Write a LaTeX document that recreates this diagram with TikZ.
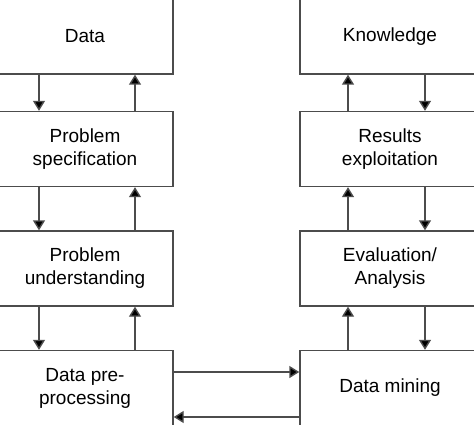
\documentclass[tikz,border=0pt]{standalone}
\usepackage{fontspec}
\setmainfont{Liberation Sans}
\usetikzlibrary{arrows.meta}
\begin{document}
\begin{tikzpicture}[x=1pt,y=-1pt,
  box/.style={draw=black!70, line width=1.4pt, fill=white, align=center,
    font=\fontsize{19}{23}\selectfont, inner sep=0pt},
  lbox/.style={box, minimum width=176pt, minimum height=75pt},
  rbox/.style={box, minimum width=180pt, minimum height=75pt},
  arr/.style={draw=black!70, line width=1.4pt, -{Triangle[width=12pt,length=10pt,fill=black]}}]
\useasboundingbox (0,0) rectangle (474,425);
\fill[white] (0,0) rectangle (474,425);
\clip (0,0) rectangle (474,425);
\node[lbox] (l1) at (85,36.5) {Data};
\node[lbox] (l2) at (85,149) {Problem\\specification};
\node[lbox] (l3) at (85,268.5) {Problem\\understanding};
\node[lbox] (l4) at (85,388) {Data pre-\\processing};
\node[rbox] (r1) at (390,36.5) {Knowledge};
\node[rbox] (r2) at (390,149) {Results\\exploitation};
\node[rbox] (r3) at (390,268.5) {Evaluation/\\Analysis};
\node[rbox] (r4) at (390,388) {Data mining};
\coordinate (xa) at (39,0);
\coordinate (xb) at (135,0);
\coordinate (xc) at (348,0);
\coordinate (xd) at (425,0);
\coordinate (ya) at (0,372);
\coordinate (yb) at (0,417);
\draw[arr] (l1.south -| xa) -- (l2.north -| xa);
\draw[arr] (l2.north -| xb) -- (l1.south -| xb);
\draw[arr] (l2.south -| xa) -- (l3.north -| xa);
\draw[arr] (l3.north -| xb) -- (l2.south -| xb);
\draw[arr] (l3.south -| xa) -- (l4.north -| xa);
\draw[arr] (l4.north -| xb) -- (l3.south -| xb);
\draw[arr] (r2.north -| xc) -- (r1.south -| xc);
\draw[arr] (r1.south -| xd) -- (r2.north -| xd);
\draw[arr] (r3.north -| xc) -- (r2.south -| xc);
\draw[arr] (r2.south -| xd) -- (r3.north -| xd);
\draw[arr] (r4.north -| xc) -- (r3.south -| xc);
\draw[arr] (r3.south -| xd) -- (r4.north -| xd);
\draw[arr] (l4.east |- ya) -- (r4.west |- ya);
\draw[arr] (r4.west |- yb) -- (l4.east |- yb);
\end{tikzpicture}
\end{document}
